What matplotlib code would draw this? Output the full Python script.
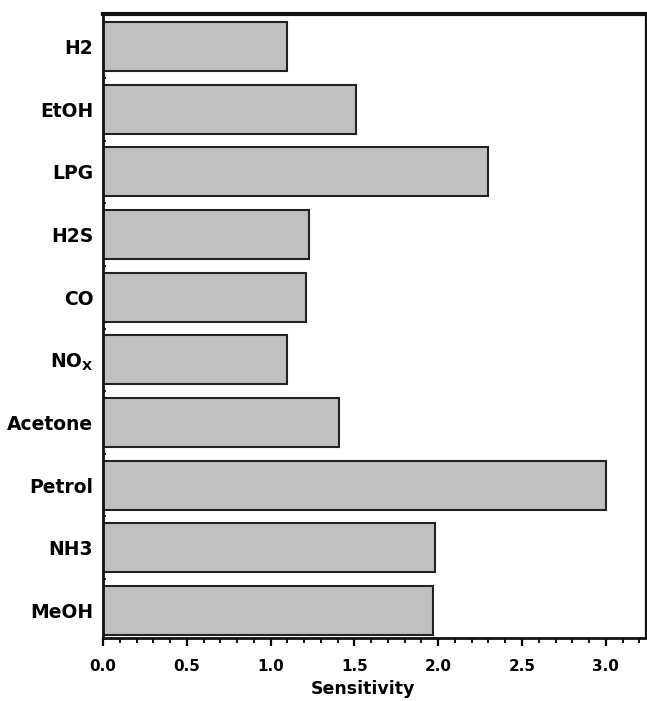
import matplotlib
matplotlib.use("Agg")
import matplotlib.pyplot as plt
from matplotlib.ticker import MultipleLocator, FixedLocator

# Gas sensitivity values
gases = ["H2", "EtOH", "LPG", "H2S", "CO", "NO$_X$", "Acetone", "Petrol", "NH3", "MeOH"]
sensitivity = [1.10, 1.51, 2.30, 1.23, 1.21, 1.10, 1.41, 3.00, 1.98, 1.97]
x_ticks = [0.0, 0.5, 1.0, 1.5, 2.0, 2.5, 3.0]
x_tick_labels = ["0.0", "0.5", "1.0", "1.5", "2.0", "2.5", "3.0"]

plt.rcParams["font.family"] = ["DejaVu Sans"]
plt.rcParams["font.weight"] = "bold"
plt.rcParams["mathtext.default"] = "bf"

fig = plt.figure(figsize=(6.47, 7.01), dpi=100)
ax = fig.add_axes([0.1592, 0.0899, 0.8393, 0.8901])

pos = list(range(len(gases)))
ax.barh(pos, sensitivity, height=0.78, color="#c0c0c0",
        edgecolor="#222222", linewidth=1.5, zorder=2)

ax.set_xlim(0, 3.24)
ax.set_ylim(9.44, -0.52)

ax.set_xticks(x_ticks)
ax.set_xticklabels(x_tick_labels, fontsize=11, fontweight="bold")
ax.xaxis.set_minor_locator(MultipleLocator(0.1))
ax.tick_params(axis="x", which="major", direction="out", length=6, width=1.6, pad=9)
ax.tick_params(axis="x", which="minor", direction="out", length=3.5, width=1.3)

ax.set_yticks(pos)
ax.set_yticklabels(gases, fontsize=13.5, fontweight="bold")
ax.yaxis.set_minor_locator(FixedLocator([p + 0.5 for p in pos[:-1]]))
ax.tick_params(axis="y", which="major", direction="in", length=2.5, width=1.2, pad=7)
ax.tick_params(axis="y", which="minor", direction="in", length=2.5, width=1.2)

ax.set_xlabel("Sensitivity", fontsize=12.5, fontweight="bold")
ax.xaxis.set_label_coords(0.478, -0.068)

ax.spines["top"].set_linewidth(3.0)
ax.spines["left"].set_linewidth(2.0)
ax.spines["bottom"].set_linewidth(2.0)
ax.spines["right"].set_linewidth(1.6)
for s in ax.spines.values():
    s.set_color("#111111")

fig.savefig("out.png", dpi=100)
